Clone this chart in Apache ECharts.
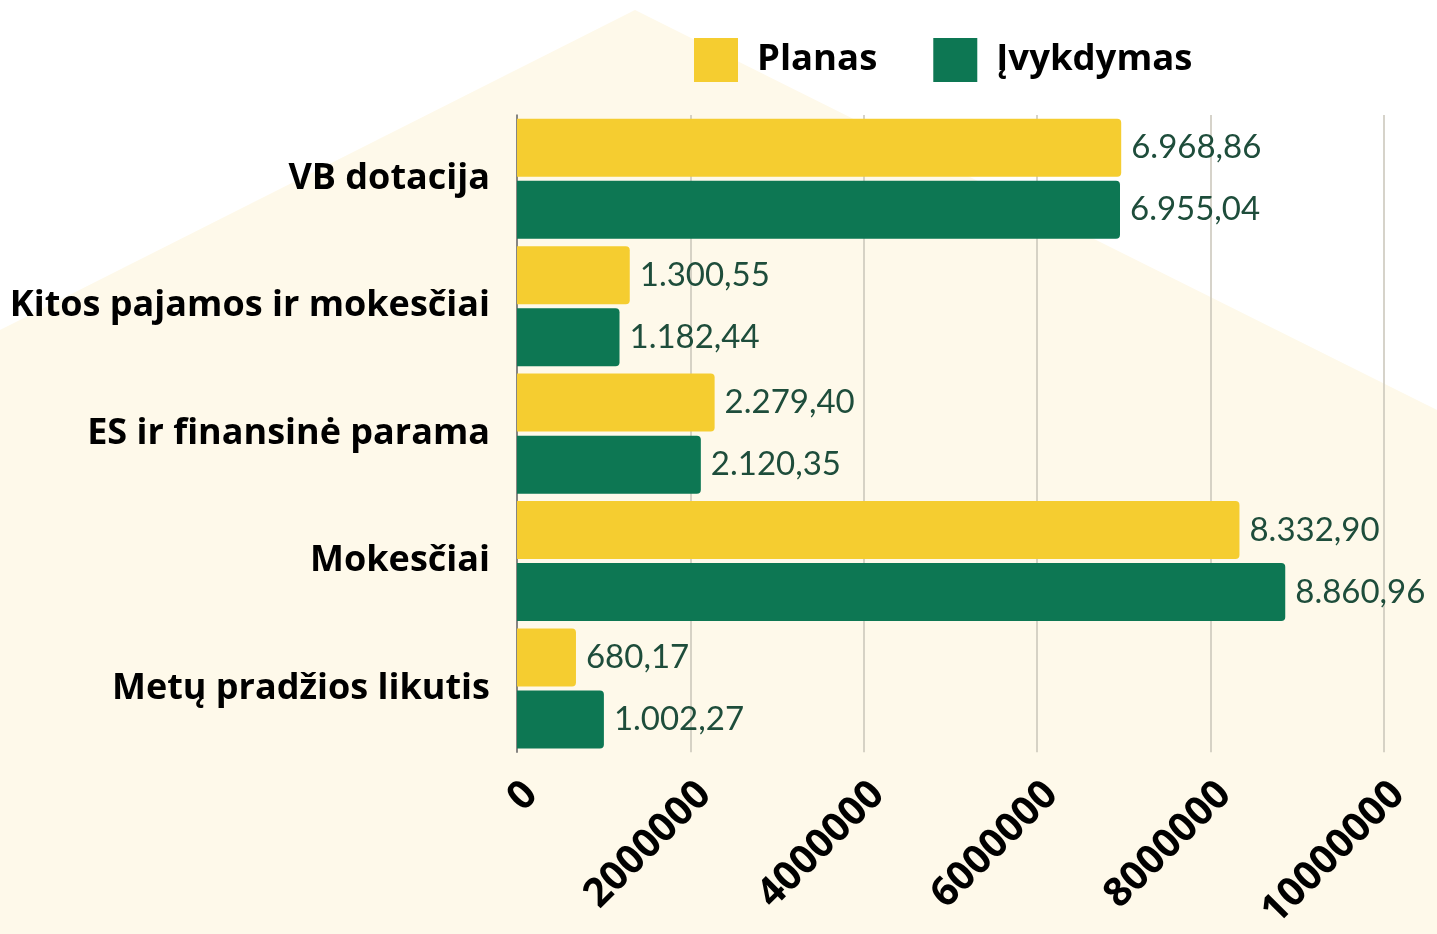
<!DOCTYPE html>
<html>
<head>
<meta charset="utf-8">
<script src="https://cdn.jsdelivr.net/npm/echarts@6/dist/echarts.min.js"></script>
<style>
	html, body { margin: 0; padding: 0; background: #fff; }
	#chart { width: 1437px; height: 934px; }
</style>
</head>
<body>
<div id="chart"></div>
<script>
// duomenys
const categories = ['VB dotacija', 'Kitos pajamos ir mokesčiai', 'ES ir finansinė parama', 'Mokesčiai', 'Metų pradžios likutis']
const planas = [6968860, 1300550, 2279400, 8332900, 680170]
const ivykdymas = [6955040, 1182440, 2120350, 8860960, 1002270]
const xTicks = [0, 2000000, 4000000, 6000000, 8000000, 10000000]

// 6968860 -> "6.968,86"
function fmt (v) {
	let parts = (v / 1000).toFixed(2).split('.')
	let int = parts[0].replace(/\B(?=(\d{3})+(?!\d))/g, '.')
	return int + ',' + parts[1]
}

let chart = echarts.init(document.getElementById('chart'))

let barLabel = {
	show: true,
	position: 'right',
	distance: 10,
	color: '#1e4d3b',
	fontFamily: 'Lato',
	fontSize: 33,
	formatter: (p) => fmt(p.value)
}

chart.setOption({
	backgroundColor: '#ffffff',
	animation: false,
	// fono "namelis"
	graphic: [{
		type: 'polygon',
		z: -1,
		silent: true,
		shape: {
			points: [[635, 10], [1437, 410], [1437, 934], [0, 934], [0, 330]]
		},
		style: { fill: '#fef9ea' }
	}],
	legend: {
		left: 694,
		top: 38,
		padding: 0,
		itemWidth: 44,
		itemHeight: 44,
		itemGap: 56,
		icon: 'rect',
		textStyle: {
			fontFamily: 'Open Sans',
			fontWeight: 'bold',
			fontSize: 36.5,
			color: '#000',
			padding: [0, 0, 0, 14]
		},
		data: ['Planas', 'Įvykdymas']
	},
	grid: {
		left: 517,
		right: 53,
		top: 115,
		bottom: 181,
		containLabel: false
	},
	xAxis: {
		type: 'value',
		min: xTicks[0],
		max: xTicks[xTicks.length - 1],
		interval: xTicks[1] - xTicks[0],
		axisLine: { show: false },
		axisTick: { show: false },
		splitLine: {
			show: true,
			lineStyle: { color: '#c9c5b8', width: 1.5 }
		},
		axisLabel: {
			rotate: 45,
			margin: 22,
			verticalAlign: 'top',
			color: '#000',
			fontFamily: 'Open Sans',
			fontWeight: 'bold',
			fontSize: 40,
			formatter: (v) => String(v)
		}
	},
	yAxis: {
		type: 'category',
		inverse: true,
		data: categories,
		axisLine: {
			show: true,
			lineStyle: { color: '#6b6b6b', width: 1.5 }
		},
		axisTick: { show: false },
		axisLabel: {
			margin: 27,
			color: '#000',
			fontFamily: 'Open Sans',
			fontWeight: 'bold',
			fontSize: 36
		}
	},
	series: [{
		name: 'Planas',
		type: 'bar',
		barWidth: 58,
		barGap: '7%',
		itemStyle: { color: '#f5cd30', borderRadius: [0, 4, 4, 0] },
		label: barLabel,
		data: planas
	}, {
		name: 'Įvykdymas',
		type: 'bar',
		barWidth: 58,
		barGap: '7%',
		itemStyle: { color: '#0d7753', borderRadius: [0, 4, 4, 0] },
		label: barLabel,
		data: ivykdymas
	}]
})
</script>
</body>
</html>
